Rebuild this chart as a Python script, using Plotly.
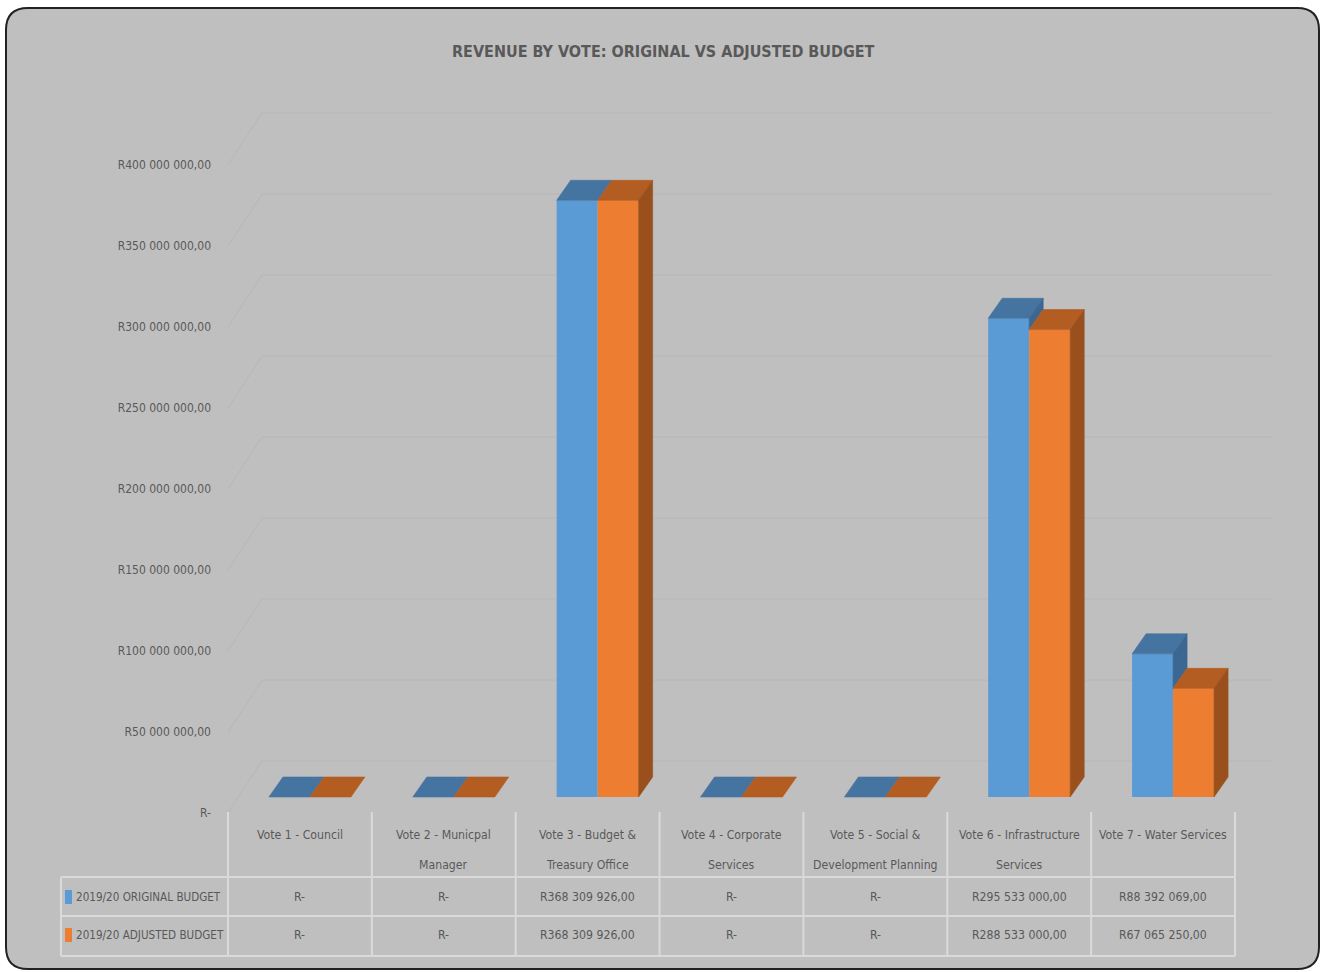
import plotly.graph_objects as go

# ---------------- data ----------------
categories = [
    "Vote 1 - Council",
    "Vote 2 - Municpal<br>Manager",
    "Vote 3 - Budget &<br>Treasury Office",
    "Vote 4 - Corporate<br>Services",
    "Vote 5 - Social &<br>Development Planning",
    "Vote 6 - Infrastructure<br>Services",
    "Vote 7 - Water Services",
]
series_names = ["2019/20 ORIGINAL BUDGET", "2019/20 ADJUSTED BUDGET"]
original_budget = [0, 0, 368309926, 0, 0, 295533000, 88392069]
adjusted_budget = [0, 0, 368309926, 0, 0, 288533000, 67065250]
y_ticks = [0, 50e6, 100e6, 150e6, 200e6, 250e6, 300e6, 350e6, 400e6]
title_text = "REVENUE BY VOTE: ORIGINAL VS ADJUSTED BUDGET"

# ---------------- styling ----------------
W, H = 1328, 972
FONT = "Liberation Sans Narrow, DejaVu Sans Condensed, Arial Narrow, Roboto, sans-serif"
TXT = "#595959"
BG = "#bfbfbf"
GRID = "#b6b6b6"
TABLE_LINE = "#dadada"
front_col = ["#5b9bd5", "#ed7d31"]
top_col = ["#4674a0", "#b45d22"]
side_col = ["#3b6792", "#9a501c"]
FS = 12.2


def px(x):
    return x / W


def py(y):
    return 1 - y / H


def fmt(v):
    if v == 0:
        return "R-"
    return "R" + f"{v:,.2f}".replace(",", " ").replace(".", ",")


# geometry (pixels)
X_LEFT, X_RIGHT = 238, 1245          # category axis domain
Y_ZERO = 797                          # pixel of value 0 for bar fronts
PX_PER_UNIT = 81 / 50e6               # pixels per rand
Y_BOTTOM_PX, Y_TOP_PX = 860, 68
y_min = -(Y_BOTTOM_PX - Y_ZERO) / PX_PER_UNIT
y_max = (Y_ZERO - Y_TOP_PX) / PX_PER_UNIT
n = len(categories)
px_per_cat = (X_RIGHT - X_LEFT) / n
bar_w = 41 / px_per_cat
depth_x = 14 / px_per_cat
depth_y = 20 / PX_PER_UNIT

fig = go.Figure()

# front faces
series = [original_budget, adjusted_budget]
for s, (name, vals) in enumerate(zip(series_names, series)):
    fig.add_trace(go.Bar(
        x=list(range(n)), y=vals, name=name,
        width=bar_w, offset=-bar_w if s == 0 else 0,
        marker=dict(color=front_col[s], line=dict(width=0)),
        showlegend=False, hoverinfo="skip",
    ))


def poly(xs, ys, color):
    fig.add_trace(go.Scatter(
        x=xs + [xs[0]], y=ys + [ys[0]], mode="lines", fill="toself",
        fillcolor=color, line=dict(color=color, width=0.6),
        showlegend=False, hoverinfo="skip",
    ))


# top and side faces computed from data
for i in range(n):
    vb, vo = original_budget[i], adjusted_budget[i]
    # blue
    xl, xr = i - bar_w, i
    poly([xl, xr, xr + depth_x, xl + depth_x], [vb, vb, vb + depth_y, vb + depth_y], top_col[0])
    if vb > vo:
        poly([xr, xr, xr + depth_x, xr + depth_x], [vo, vb, vb + depth_y, vo + depth_y], side_col[0])
    # orange
    xl, xr = i, i + bar_w
    poly([xl, xr, xr + depth_x, xl + depth_x], [vo, vo, vo + depth_y, vo + depth_y], top_col[1])
    if vo > 0:
        poly([xr, xr, xr + depth_x, xr + depth_x], [0, vo, vo + depth_y, depth_y], side_col[1])

shapes = []
# rounded background panel
x0, x1, y0, y1, r = 6, 1319, 8, 969, 22
path = (
    f"M {px(x0 + r)},{py(y0)} L {px(x1 - r)},{py(y0)} "
    f"Q {px(x1)},{py(y0)} {px(x1)},{py(y0 + r)} "
    f"L {px(x1)},{py(y1 - r)} Q {px(x1)},{py(y1)} {px(x1 - r)},{py(y1)} "
    f"L {px(x0 + r)},{py(y1)} Q {px(x0)},{py(y1)} {px(x0)},{py(y1 - r)} "
    f"L {px(x0)},{py(y0 + r)} Q {px(x0)},{py(y0)} {px(x0 + r)},{py(y0)} Z"
)
shapes.append(dict(type="path", path=path, xref="paper", yref="paper",
                   fillcolor=BG, line=dict(color="#222222", width=2), layer="below"))

# back wall gridlines + side wall diagonals
LABEL_ZERO = 813
for v in y_ticks:
    yf = LABEL_ZERO - v * PX_PER_UNIT
    yb = yf - 52
    shapes.append(dict(type="line", xref="paper", yref="paper",
                       x0=px(262), x1=px(1272), y0=py(yb), y1=py(yb),
                       line=dict(color=GRID, width=1), layer="below"))
    shapes.append(dict(type="line", xref="paper", yref="paper",
                       x0=px(228), x1=px(262), y0=py(yf), y1=py(yb),
                       line=dict(color=GRID, width=1), layer="below"))

# data table grid
col_edges = [228 + k * (1235 - 228) / n for k in range(n + 1)]
for k, xe in enumerate(col_edges):
    shapes.append(dict(type="line", xref="paper", yref="paper",
                       x0=px(xe), x1=px(xe), y0=py(812), y1=py(956),
                       line=dict(color=TABLE_LINE, width=2)))
shapes.append(dict(type="line", xref="paper", yref="paper",
                   x0=px(61), x1=px(61), y0=py(877), y1=py(956),
                   line=dict(color=TABLE_LINE, width=2)))
for yl in [877, 916, 956]:
    shapes.append(dict(type="line", xref="paper", yref="paper",
                       x0=px(61), x1=px(1235), y0=py(yl), y1=py(yl),
                       line=dict(color=TABLE_LINE, width=2)))

# legend keys in table
row_y = [897, 935]
for s in range(2):
    shapes.append(dict(type="rect", xref="paper", yref="paper",
                       x0=px(65), x1=px(72), y0=py(row_y[s] - 7), y1=py(row_y[s] + 7),
                       fillcolor=front_col[s], line=dict(width=0)))

annotations = []
annotations.append(dict(text=title_text, x=px(663), y=py(52), xref="paper", yref="paper",
                        showarrow=False, xanchor="center", yanchor="middle",
                        font=dict(family=FONT, size=16, color=TXT, weight="bold")))

for i, cat in enumerate(categories):
    cx = (col_edges[i] + col_edges[i + 1]) / 2
    for j, line in enumerate(cat.split("<br>")):
        annotations.append(dict(text=line, x=px(cx), y=py(835 + 30 * j), xref="paper", yref="paper",
                                showarrow=False, xanchor="center", yanchor="middle",
                                font=dict(family=FONT, size=FS, color=TXT)))
    for s, vals in enumerate(series):
        annotations.append(dict(text=fmt(vals[i]), x=px(cx), y=py(row_y[s]), xref="paper", yref="paper",
                                showarrow=False, xanchor="center", yanchor="middle",
                                font=dict(family=FONT, size=FS, color=TXT)))

for s in range(2):
    annotations.append(dict(text=series_names[s], x=px(74), y=py(row_y[s]), xref="paper", yref="paper",
                            showarrow=False, xanchor="left", yanchor="middle",
                            font=dict(family=FONT, size=11.6, color=TXT)))

fig.update_layout(
    width=W, height=H,
    margin=dict(l=0, r=0, t=0, b=0),
    paper_bgcolor="white", plot_bgcolor="rgba(0,0,0,0)",
    barmode="overlay",
    shapes=shapes, annotations=annotations,
    xaxis=dict(domain=[px(X_LEFT), px(X_RIGHT)], range=[-0.5, n - 0.5],
               showgrid=False, zeroline=False, showticklabels=False, ticks="", showline=False,
               fixedrange=True),
    yaxis=dict(domain=[py(Y_BOTTOM_PX), py(Y_TOP_PX)], range=[y_min, y_max],
               tickvals=y_ticks, ticktext=[fmt(v) for v in y_ticks],
               ticklabelshift=(LABEL_ZERO - Y_ZERO), ticklabelstandoff=26,
               tickfont=dict(family=FONT, size=12, color=TXT),
               showgrid=False, zeroline=False, ticks="", showline=False, fixedrange=True),
    showlegend=False,
)

fig.write_html("out.html")
